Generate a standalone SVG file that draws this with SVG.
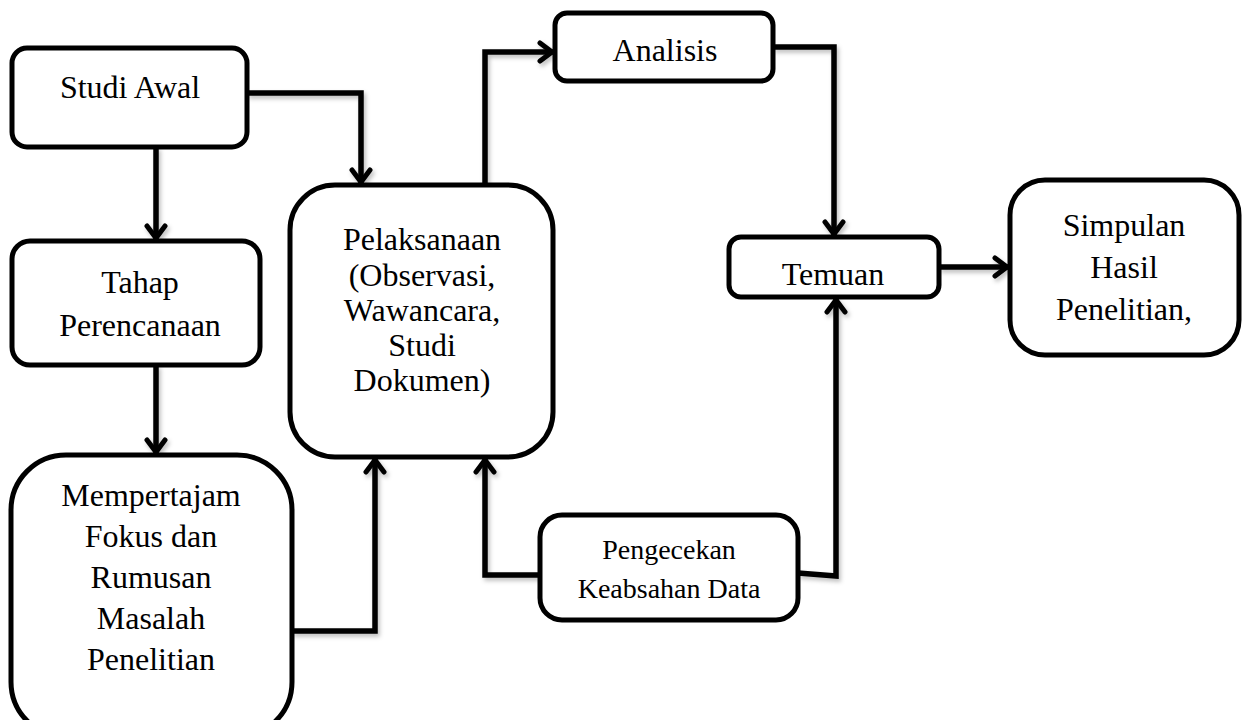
<svg xmlns="http://www.w3.org/2000/svg" width="1246" height="720" viewBox="0 0 1246 720">
  <style>
    .box { fill: #ffffff; stroke: #000000; stroke-width: 5; }
    .lbl { font-family: "Liberation Serif", "Times New Roman", serif; font-size: 32px; fill: #000000; text-anchor: middle; }
    .sm { font-size: 28px; }
    .conn { fill: none; stroke: #000000; stroke-width: 5.5; stroke-linejoin: miter; }
  </style>
  <defs>
    <filter id="sh" x="-20%" y="-20%" width="140%" height="140%">
      <feDropShadow dx="2" dy="3" stdDeviation="2" flood-color="#000" flood-opacity="0.25"/>
    </filter>
    <marker id="arr" viewBox="0 0 24 24" refX="19" refY="12" markerWidth="24" markerHeight="24" markerUnits="userSpaceOnUse" orient="auto">
      <path d="M6,3 L18,12 L6,21" fill="none" stroke="#000" stroke-width="5" stroke-linecap="round" stroke-linejoin="miter"/>
    </marker>
  </defs>

  <g id="connectors" filter="url(#sh)">
    <path class="conn" d="M156,147 V239" marker-end="url(#arr)"/>
    <path class="conn" d="M247,93 H361 V183" marker-end="url(#arr)"/>
    <path class="conn" d="M156,365 V453" marker-end="url(#arr)"/>
    <path class="conn" d="M292,631 H375 V459" marker-end="url(#arr)"/>
    <path class="conn" d="M485,185 V52 H553" marker-end="url(#arr)"/>
    <path class="conn" d="M773,47 H834 V235" marker-end="url(#arr)"/>
    <path class="conn" d="M939,267 H1008" marker-end="url(#arr)"/>
    <path class="conn" d="M540,575 H485 V459" marker-end="url(#arr)"/>
    <path class="conn" d="M798,573 L836,576 V299" marker-end="url(#arr)"/>
  </g>

  <g id="studi-awal">
    <rect class="box" x="12" y="48" width="235" height="99" rx="15"/>
    <text class="lbl" x="130" y="98">Studi Awal</text>
  </g>

  <g id="tahap-perencanaan">
    <rect class="box" x="12" y="241" width="248" height="124" rx="18"/>
    <text class="lbl" x="140" y="293">Tahap</text>
    <text class="lbl" x="140" y="336">Perencanaan</text>
  </g>

  <g id="mempertajam">
    <rect class="box" x="11" y="455" width="281" height="282" rx="55"/>
    <text class="lbl" x="151" y="506">Mempertajam</text>
    <text class="lbl" x="151" y="547">Fokus dan</text>
    <text class="lbl" x="151" y="588">Rumusan</text>
    <text class="lbl" x="151" y="629">Masalah</text>
    <text class="lbl" x="151" y="670">Penelitian</text>
  </g>

  <g id="pelaksanaan">
    <rect class="box" x="290" y="185" width="263" height="272" rx="45"/>
    <text class="lbl" x="422" y="250">Pelaksanaan</text>
    <text class="lbl" x="422" y="286">(Observasi,</text>
    <text class="lbl" x="422" y="321">Wawancara,</text>
    <text class="lbl" x="422" y="356">Studi</text>
    <text class="lbl" x="422" y="391">Dokumen)</text>
  </g>

  <g id="analisis">
    <rect class="box" x="555" y="13" width="218" height="68" rx="12"/>
    <text class="lbl" x="665" y="61">Analisis</text>
  </g>

  <g id="temuan">
    <rect class="box" x="729" y="237" width="210" height="60" rx="12"/>
    <text class="lbl" x="833" y="285">Temuan</text>
  </g>

  <g id="simpulan">
    <rect class="box" x="1010" y="180" width="229" height="175" rx="35"/>
    <text class="lbl" x="1124" y="236">Simpulan</text>
    <text class="lbl" x="1124" y="278">Hasil</text>
    <text class="lbl" x="1124" y="320">Penelitian,</text>
  </g>

  <g id="pengecekan">
    <rect class="box" x="540" y="515" width="258" height="105" rx="22"/>
    <text class="lbl sm" x="669" y="559">Pengecekan</text>
    <text class="lbl sm" x="669" y="598">Keabsahan Data</text>
  </g>
</svg>
